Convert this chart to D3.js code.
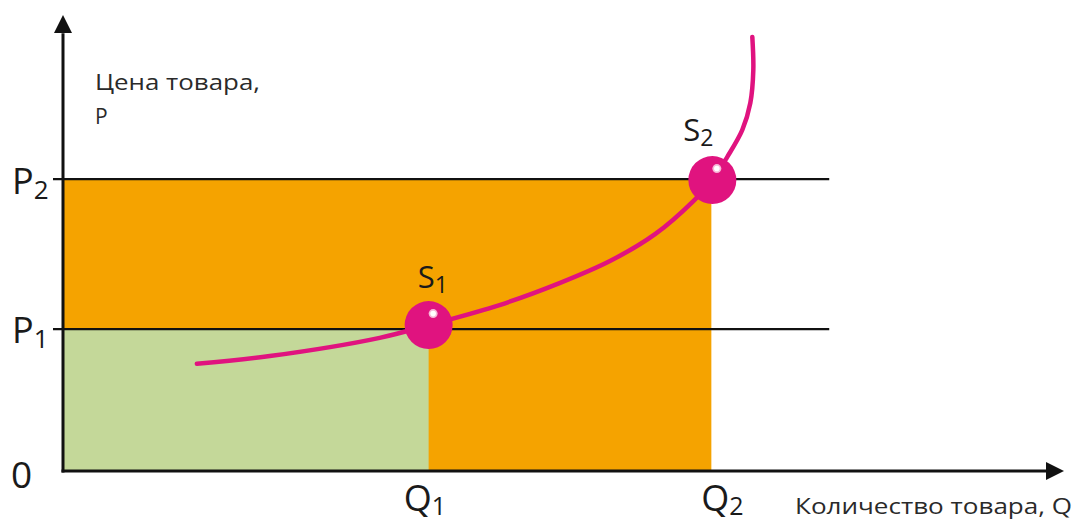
<!DOCTYPE html>
<html><head><meta charset="utf-8">
<script src="https://cdn.jsdelivr.net/npm/d3@7/dist/d3.min.js"></script>
<style>html,body{margin:0;padding:0;background:#fff;}svg{display:block;}</style>
</head><body>
<svg id="chart" width="1074" height="523"></svg>
<script>
// ---- data (abstract units: Q on 0..100, P on 0..100) ----
const qLevels = [36.6, 64.9];          // Q1, Q2
const pLevels = [31.1, 64.0];          // P1, P2
const qLabels = ["1", "2"];
const pLabels = ["1", "2"];
const supplyQ = [13.4, 20.7, 31.7, 36.6, 43.7, 49.7, 54.8, 59.3, 63.1, 65.0, 66.5, 68.0, 68.8, 69.1, 69.0];
const supplyP = [23.5, 25.2, 29.2, 32.0, 36.4, 41.2, 46.1, 52.0, 59.2, 63.8, 68.9, 74.8, 80.7, 87.9, 95.2];
const pointQ = [36.6, 65.0];
const pointP = [32.0, 63.8];
const pointLabels = ["1", "2"];
const priceLineEnd = 76.7;

const svg = d3.select("#chart");
const x = d3.scaleLinear().domain([0, 100]).range([63, 1062]);
const y = d3.scaleLinear().domain([0, 100]).range([471, 15]);

const ORANGE = "#f5a300", GREEN = "#c4d899", PINK = "#e0137f";
const FONT = "'Open Sans', 'Noto Sans', sans-serif";

// rectangles
svg.append("rect").attr("x", x(0)).attr("y", y(pLevels[1]))
  .attr("width", x(qLevels[1]) - x(0)).attr("height", y(0) - y(pLevels[1])).attr("fill", ORANGE);
svg.append("rect").attr("x", x(0)).attr("y", y(pLevels[0]))
  .attr("width", x(qLevels[0]) - x(0)).attr("height", y(0) - y(pLevels[0])).attr("fill", GREEN);

// price lines
pLevels.forEach(p => {
  svg.append("line").attr("x1", x(-1)).attr("x2", x(priceLineEnd))
    .attr("y1", y(p)).attr("y2", y(p)).attr("stroke", "#111").attr("stroke-width", 2.2);
});

// axes
svg.append("line").attr("x1", x(0)).attr("x2", x(0)).attr("y1", y(0) + 1.5).attr("y2", y(96))
  .attr("stroke", "#111").attr("stroke-width", 3);
svg.append("line").attr("x1", x(0) - 1.5).attr("x2", x(98.5)).attr("y1", y(0)).attr("y2", y(0))
  .attr("stroke", "#111").attr("stroke-width", 3);
// arrowheads
const yt = y(100), xt = x(100);
svg.append("path").attr("d", `M${x(0)},${yt} L${x(0)-9},${yt+18} L${x(0)+9},${yt+18} Z`).attr("fill", "#111");
svg.append("path").attr("d", `M${xt+2},${y(0)} L${xt-16},${y(0)-9} L${xt-16},${y(0)+9} Z`).attr("fill", "#111");

// supply curve
const line = d3.line().x(d => x(d[0])).y(d => y(d[1])).curve(d3.curveCatmullRom.alpha(0.5));
svg.append("path").datum(supplyQ.map((q, i) => [q, supplyP[i]]))
  .attr("d", line).attr("fill", "none").attr("stroke", PINK).attr("stroke-width", 4.5)
  .attr("stroke-linecap", "round");

// points
pointQ.forEach((q, i) => {
  const cx = x(q), cy = y(pointP[i]);
  svg.append("circle").attr("cx", cx).attr("cy", cy).attr("r", 24).attr("fill", PINK);
  svg.append("circle").attr("cx", cx + 4.5).attr("cy", cy - 11.5).attr("r", 4.5).attr("fill", "#f7b8d8");
  svg.append("circle").attr("cx", cx + 4.5).attr("cy", cy - 11.5).attr("r", 2.8).attr("fill", "#fff");
});

// label helper with subscript
function subLabel(tx, ty, main, sub, size, subSize, dy) {
  const t = svg.append("text").attr("x", tx).attr("y", ty)
    .attr("font-family", FONT).attr("font-size", size).attr("fill", "#1a1a1a");
  t.append("tspan").text(main);
  t.append("tspan").attr("font-size", subSize).attr("dy", dy).text(sub);
}

// P labels
subLabel(12, y(pLevels[1]) + 15, "P", pLabels[1], 36, 26, 5);
subLabel(12, y(pLevels[0]) + 14, "P", pLabels[0], 36, 26, 5);
// zero
svg.append("text").attr("x", 11).attr("y", 488).attr("font-family", FONT).attr("font-size", 37)
  .attr("fill", "#1a1a1a").text("0");
// Q labels
subLabel(x(qLevels[0]) - 25, 511, "Q", qLabels[0], 36, 25, 4);
subLabel(x(qLevels[1]) - 10, 511, "Q", qLabels[1], 36, 25, 4);
// S labels
subLabel(x(pointQ[0]) - 11, 288, "S", pointLabels[0], 31, 23, 5);
subLabel(x(pointQ[1]) - 29, 141, "S", pointLabels[1], 31, 23, 5);

// axis titles
svg.append("text").attr("x", 95).attr("y", 90).attr("font-family", FONT).attr("font-size", 21)
  .attr("fill", "#2a2a2a").attr("textLength", 165).attr("lengthAdjust", "spacingAndGlyphs").text("Цена товара,");
svg.append("text").attr("x", 95).attr("y", 124).attr("font-family", FONT).attr("font-size", 21)
  .attr("fill", "#2a2a2a").text("P");
svg.append("text").attr("x", 795).attr("y", 514).attr("font-family", FONT).attr("font-size", 22)
  .attr("fill", "#2a2a2a").attr("textLength", 277).attr("lengthAdjust", "spacingAndGlyphs").text("Количество товара, Q");
</script>
</body></html>
